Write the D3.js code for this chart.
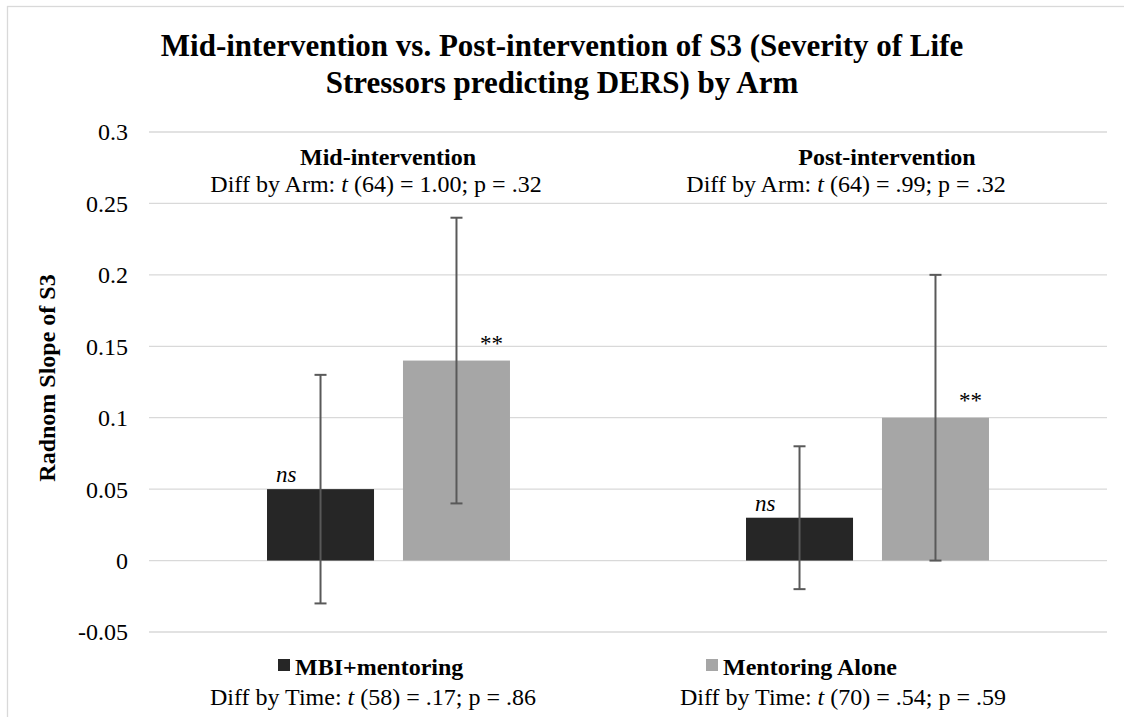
<html>
<head>
<meta charset="utf-8">
<script src="https://cdn.jsdelivr.net/npm/d3@7/dist/d3.min.js"></script>
<style>
body{
  margin:0;
  padding:0;
  background:white;
  overflow:hidden;
  font-family: 'Liberation Serif', 'Times New Roman', serif;
}
</style>
</head>
<body>
<div id="chart"></div>
<script>
//========== DATA =============
const groups = ["Mid-intervention", "Post-intervention"];
const arms = ["MBI+mentoring", "Mentoring Alone"];
const means = [[0.05, 0.14], [0.03, 0.10]];          // per group: [MBI, Mentoring]
const errLow = [[-0.03, 0.04], [-0.02, 0.00]];
const errHigh = [[0.13, 0.24], [0.08, 0.20]];
const sigLabels = [["ns", "**"], ["ns", "**"]];
const yTicks = [-0.05, 0, 0.05, 0.1, 0.15, 0.2, 0.25, 0.3];
const armStats = [["Diff by Arm: ", "t", " (64) = 1.00; p = .32"], ["Diff by Arm: ", "t", " (64) = .99; p = .32"]];
const timeStats = [["Diff by Time: ", "t", " (58) = .17; p = .86"], ["Diff by Time: ", "t", " (70) = .54; p = .59"]];
const colors = ["#262626", "#a6a6a6"];

//========== SVG VIEW =============
const width = 1124, height = 717;
const fs = 24;                                        // body font size
const svg = d3.select("#chart").append("svg").attr("width", width).attr("height", height)
  .attr("font-family", "'Liberation Serif', 'Times New Roman', serif");

// chart area border
svg.append("rect").attr("x", 7.5).attr("y", 6.5).attr("width", width).attr("height", height)
  .attr("fill", "white").attr("stroke", "#d9d9d9").attr("stroke-width", 1.3);

const x0 = d3.scaleBand().domain(groups).range([149, 1107]).padding(0);
const x1 = d3.scaleBand().domain(arms).range([0, x0.bandwidth()]).paddingInner(0.213).paddingOuter(0.868);
const y = d3.scaleLinear().domain([-0.05, 0.3]).range([632, 132]);

// gridlines
svg.append("g").selectAll("line").data(yTicks).enter().append("line")
  .attr("x1", 149).attr("x2", 1107)
  .attr("y1", d => y(d)).attr("y2", d => y(d))
  .attr("stroke", "#d9d9d9").attr("stroke-width", 1.3);

// y axis labels
const yAxis = d3.axisLeft(y).tickValues(yTicks).tickSize(0).tickPadding(0)
  .tickFormat(d => d === 0 ? "0" : String(+d.toFixed(2)));
const ya = svg.append("g").attr("transform", "translate(128,0)").call(yAxis);
ya.attr("font-family", null).attr("font-size", null);
ya.select(".domain").remove();
ya.selectAll("text").attr("font-size", fs).attr("fill", "#000").attr("dy", "0.33em");

// y axis title
svg.append("text").attr("transform", "translate(55,378) rotate(-90)")
  .attr("text-anchor", "middle").attr("font-weight", "bold").attr("font-size", fs)
  .text("Radnom Slope of S3");

// title
const title = svg.append("text").attr("text-anchor", "middle").attr("font-weight", "bold").attr("font-size", 31);
title.append("tspan").attr("x", 562).attr("y", 56).text("Mid-intervention vs. Post-intervention of S3 (Severity of Life");
title.append("tspan").attr("x", 562).attr("y", 93).text("Stressors predicting DERS) by Arm");

//========== BARS =============
const rows = [];
groups.forEach((g, i) => arms.forEach((a, j) => rows.push({
  g: g, a: a, j: j, v: means[i][j], lo: errLow[i][j], hi: errHigh[i][j], sig: sigLabels[i][j]
})));

const bx = d => x0(d.g) + x1(d.a);
const cx = d => bx(d) + x1.bandwidth() / 2;

svg.append("g").selectAll("rect").data(rows).enter().append("rect")
  .attr("x", bx).attr("width", x1.bandwidth())
  .attr("y", d => y(Math.max(0, d.v))).attr("height", d => Math.abs(y(d.v) - y(0)))
  .attr("fill", d => colors[d.j]);

// error bars
const eb = svg.append("g").attr("stroke", "#595959").attr("stroke-width", 2);
eb.selectAll(".stem").data(rows).enter().append("line")
  .attr("x1", cx).attr("x2", cx).attr("y1", d => y(d.lo)).attr("y2", d => y(d.hi));
eb.selectAll(".capHi").data(rows).enter().append("line")
  .attr("x1", d => cx(d) - 6).attr("x2", d => cx(d) + 6).attr("y1", d => y(d.hi)).attr("y2", d => y(d.hi));
eb.selectAll(".capLo").data(rows).enter().append("line")
  .attr("x1", d => cx(d) - 6).attr("x2", d => cx(d) + 6).attr("y1", d => y(d.lo)).attr("y2", d => y(d.lo));

// significance labels
svg.append("g").selectAll("text").data(rows).enter().append("text")
  .attr("font-size", 23)
  .attr("font-style", d => d.sig === "ns" ? "italic" : "normal")
  .attr("text-anchor", d => d.sig === "ns" ? "start" : "middle")
  .attr("x", d => d.sig === "ns" ? bx(d) + 9 : cx(d) + 35)
  .attr("y", d => d.sig === "ns" ? y(d.v) - 7 : y(d.v) - 10)
  .text(d => d.sig);

//========== ANNOTATIONS =============
const statText = (parts, xc, yb) => {
  const t = svg.append("text").attr("x", xc).attr("y", yb).attr("text-anchor", "middle").attr("font-size", fs);
  t.append("tspan").text(parts[0]);
  t.append("tspan").attr("font-style", "italic").text(parts[1]);
  t.append("tspan").text(parts[2]);
};

const headX = [388, 887];
const armX = [376, 846];
groups.forEach((g, i) => {
  svg.append("text").attr("x", headX[i]).attr("y", 165).attr("text-anchor", "middle")
    .attr("font-weight", "bold").attr("font-size", fs).text(g);
  statText(armStats[i], armX[i], 192);
});

// legend with time stats
const legX = [278, 706];
const timeX = [373, 843];
arms.forEach((a, j) => {
  svg.append("rect").attr("x", legX[j]).attr("y", 659).attr("width", 12).attr("height", 12).attr("fill", colors[j]);
  svg.append("text").attr("x", legX[j] + 17).attr("y", 675).attr("font-weight", "bold").attr("font-size", fs).text(a);
  statText(timeStats[j], timeX[j], 705);
});
</script>
</body>
</html>
